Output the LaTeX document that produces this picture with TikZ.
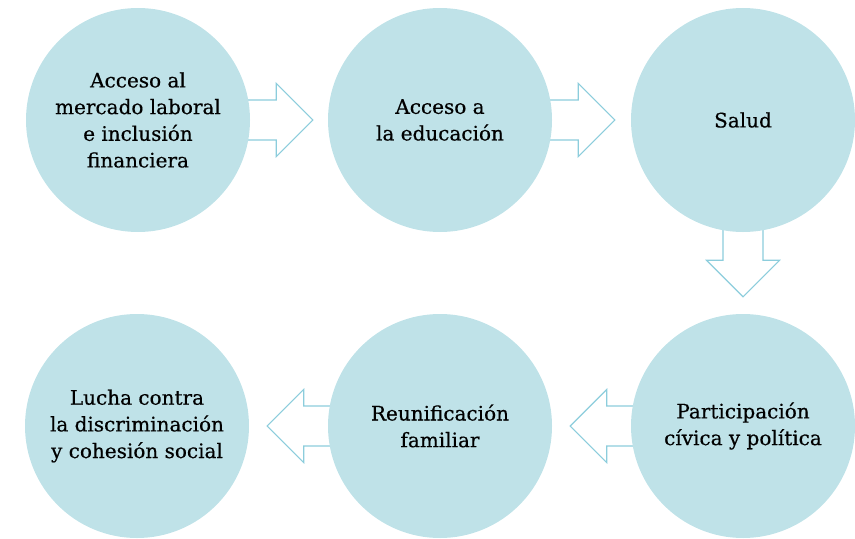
\documentclass[tikz,border=0pt]{standalone}
\usepackage{fontspec}
\setmainfont{DejaVu Serif}[FakeBold=0.45]
\usetikzlibrary{calc,backgrounds}

\definecolor{circfill}{RGB}{191,226,232}
\definecolor{arrline}{RGB}{140,205,220}

\tikzset{
  topic/.style={circle, fill=circfill, minimum size=168pt, inner sep=0pt, align=center,
    text=black, font=\fontsize{15}{20}\selectfont},
  blockarr/.style={draw=arrline, fill=white, line width=0.8pt, line join=miter}
}

\begin{document}
\begin{tikzpicture}[x=0.75pt, y=-0.75pt]
\useasboundingbox (0,0) rectangle (855,538);

\node[topic] (acceso) at (138,120) {Acceso al\\mercado laboral\\e inclusión\\financiera};
\node[topic] (educacion) at (440,120) {Acceso a\\la educación};
\node[topic] (salud) at (743,120) {Salud};
\node[topic] (participacion) at (743,426) {Participación\\cívica y política};
\node[topic] (reunificacion) at (440,426) {Reunificación\\familiar};
\node[topic] (lucha) at (137,426) {Lucha contra\\la discriminación\\y cohesión social};

\begin{pgfonlayer}{background}
% hacia la derecha
\draw[blockarr] ($(acceso.east)+(-10,-20)$) -- ++(36,0) -- ++(0,-16.5) -- ++(36.5,36.5)
  -- ++(-36.5,36.5) -- ++(0,-16.5) -- ++(-36,0) -- cycle;
\draw[blockarr] ($(educacion.east)+(-10,-20)$) -- ++(36,0) -- ++(0,-16.5) -- ++(36.5,36.5)
  -- ++(-36.5,36.5) -- ++(0,-16.5) -- ++(-36,0) -- cycle;
% hacia abajo
\draw[blockarr] ($(salud.south)+(-20,-10)$) -- ++(0,38) -- ++(-16.5,0) -- ++(36.5,36.5)
  -- ++(36.5,-36.5) -- ++(-16.5,0) -- ++(0,-38) -- cycle;
% hacia la izquierda
\draw[blockarr] ($(participacion.west)+(10,-20)$) -- ++(-34,0) -- ++(0,-16.5) -- ++(-36.5,36.5)
  -- ++(36.5,36.5) -- ++(0,-16.5) -- ++(34,0) -- cycle;
\draw[blockarr] ($(reunificacion.west)+(10,-20)$) -- ++(-34,0) -- ++(0,-16.5) -- ++(-36.5,36.5)
  -- ++(36.5,36.5) -- ++(0,-16.5) -- ++(34,0) -- cycle;
\end{pgfonlayer}
\end{tikzpicture}
\end{document}
